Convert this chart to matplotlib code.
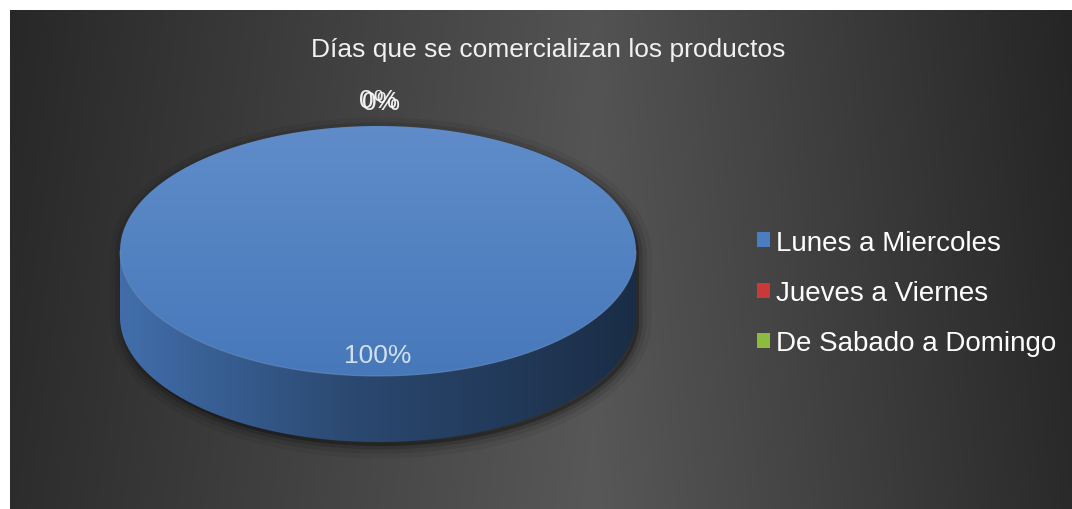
import matplotlib.pyplot as plt
import numpy as np
from matplotlib.colors import to_rgb
from matplotlib.patches import Patch, Polygon

titulo = "Días que se comercializan los productos"
categorias = ["Lunes a Miercoles", "Jueves a Viernes", "De Sabado a Domingo"]
porcentajes = [100, 0, 0]
colores = ["#4a7dc2", "#c9393a", "#8dbb3f"]

W, H = 1072, 510
plt.rcParams['font.family'] = ['Liberation Sans', 'DejaVu Sans']

fig = plt.figure(figsize=(W / 100, H / 100), dpi=100, facecolor='white')

# fondo oscuro con degradado horizontal
bg = fig.add_axes([10 / W, 0, (W - 10) / W, (H - 11) / H])
bg.set_axis_off()
gx, gy = np.meshgrid(np.linspace(0, 1, 800), np.linspace(0, 1, 300))
gris = np.interp(gx, [0, 0.55, 1], [0.155, 0.325, 0.145]) + 0.02 * gy
bg.imshow(np.dstack([gris] * 3), aspect='auto', extent=[0, 1, 0, 1], origin='upper')

ax = fig.add_axes([0, 0, 1, 1])
ax.set_axis_off()
ax.patch.set_visible(False)

# geometría del pastel 3D (coordenadas en píxeles, y hacia abajo)
cx, cy, rx, ry, prof = 378, 252, 258, 125, 66


def punto(theta, dy=0.0, k=1.0, ky=None):
    t = np.radians(np.atleast_1d(theta))
    ky = k if ky is None else ky
    return np.column_stack([cx + rx * k * np.cos(t), cy - ry * ky * np.sin(t) + dy])


def mezcla(c, otro, f):
    return tuple(np.array(to_rgb(c)) * (1 - f) + np.array(to_rgb(otro)) * f)


def relleno(verts, paradas, colores_p, horizontal, z):
    poly = Polygon(verts, closed=True, facecolor='none', edgecolor='none', zorder=z)
    ax.add_patch(poly)
    x0, y0 = verts.min(axis=0)
    x1, y1 = verts.max(axis=0)
    t = np.linspace(0, 1, 256)
    cols = np.array([to_rgb(c) for c in colores_p])
    grad = np.column_stack([np.interp(t, paradas, cols[:, k]) for k in range(3)])
    img = grad[None, :, :] if horizontal else grad[:, None, :]
    im = ax.imshow(img, extent=[x0, x1, y1, y0], aspect='auto', origin='upper',
                   interpolation='bilinear', zorder=z)
    im.set_clip_path(poly)


# sombra difusa bajo el pastel
silueta = np.vstack([punto(np.linspace(0, 180, 200)),
                     punto(np.linspace(180, 360, 200), prof)])
for lw, a in [(18, 0.06), (11, 0.09), (5, 0.14)]:
    ax.add_patch(Polygon(silueta + [3, 4], closed=True, facecolor='black',
                         edgecolor='black', lw=lw, alpha=a, zorder=1, joinstyle='round'))

total = sum(porcentajes)
inicio = 90.0
etiquetas = []
for valor, color in zip(porcentajes, colores):
    barrido = 360.0 * valor / total
    fin = inicio - barrido
    medio = inicio - barrido / 2
    if barrido > 0:
        # lateral visible (mitad frontal)
        if barrido >= 360:
            ang = np.linspace(180, 360, 300)
        else:
            ang = np.linspace(max(fin, 180), max(min(inicio, 360), 180), 200)
        if ang[-1] > ang[0]:
            borde = punto(ang)
            lado = np.vstack([borde, punto(ang[::-1], prof)])
            relleno(lado, [0, 0.45, 1],
                    [mezcla(color, 'black', 0.12), mezcla(color, 'black', 0.42),
                     mezcla(color, 'black', 0.64)], True, 2)
            ax.plot(borde[:, 0], borde[:, 1], color=mezcla(color, 'white', 0.25),
                    lw=0.8, alpha=0.5, zorder=4)
        # cara superior
        arco = punto(np.linspace(inicio, fin, 400))
        cara = arco if barrido >= 360 else np.vstack([[cx, cy], arco])
        relleno(cara, [0, 1], [mezcla(color, 'white', 0.12), mezcla(color, 'black', 0.04)],
                False, 3)
    # etiqueta de porcentaje: dentro de la porción grande, fuera de las pequeñas
    if valor >= 50:
        pos = punto(medio, k=0.83)[0]
        etiquetas.append((pos, f"{valor:.0f}%", '#dfe8f4'))
    else:
        pos = punto(medio, k=1.0, ky=1.21)[0]
        etiquetas.append((pos, f"{valor:.0f}%", 'white'))
    inicio = fin

vistos = []
for pos, txt, col in etiquetas:
    while any(np.allclose(pos, v) for v in vistos):
        pos = pos + [3.0, 2.0]
    vistos.append(pos)
    ax.text(pos[0], pos[1], txt, ha='center', va='center', fontsize=19,
            color=col, alpha=0.92, zorder=6)

ax.text(548, 57, titulo, ha='center', va='baseline', fontsize=19, color='#f0f0f0', zorder=6)

handles = [Patch(facecolor=c, edgecolor='none', label=l) for c, l in zip(colores, categorias)]
ax.legend(handles=handles, loc='center left', bbox_to_anchor=(757 / W, 1 - 294 / H),
          bbox_transform=fig.transFigure, frameon=False, fontsize=20, labelcolor='white',
          handlelength=0.45, handleheight=0.45, handletextpad=0.25, labelspacing=0.87,
          borderpad=0, borderaxespad=0)

ax.set_xlim(0, W)
ax.set_ylim(H, 0)

fig.savefig('out.png', dpi=100, facecolor='white')
